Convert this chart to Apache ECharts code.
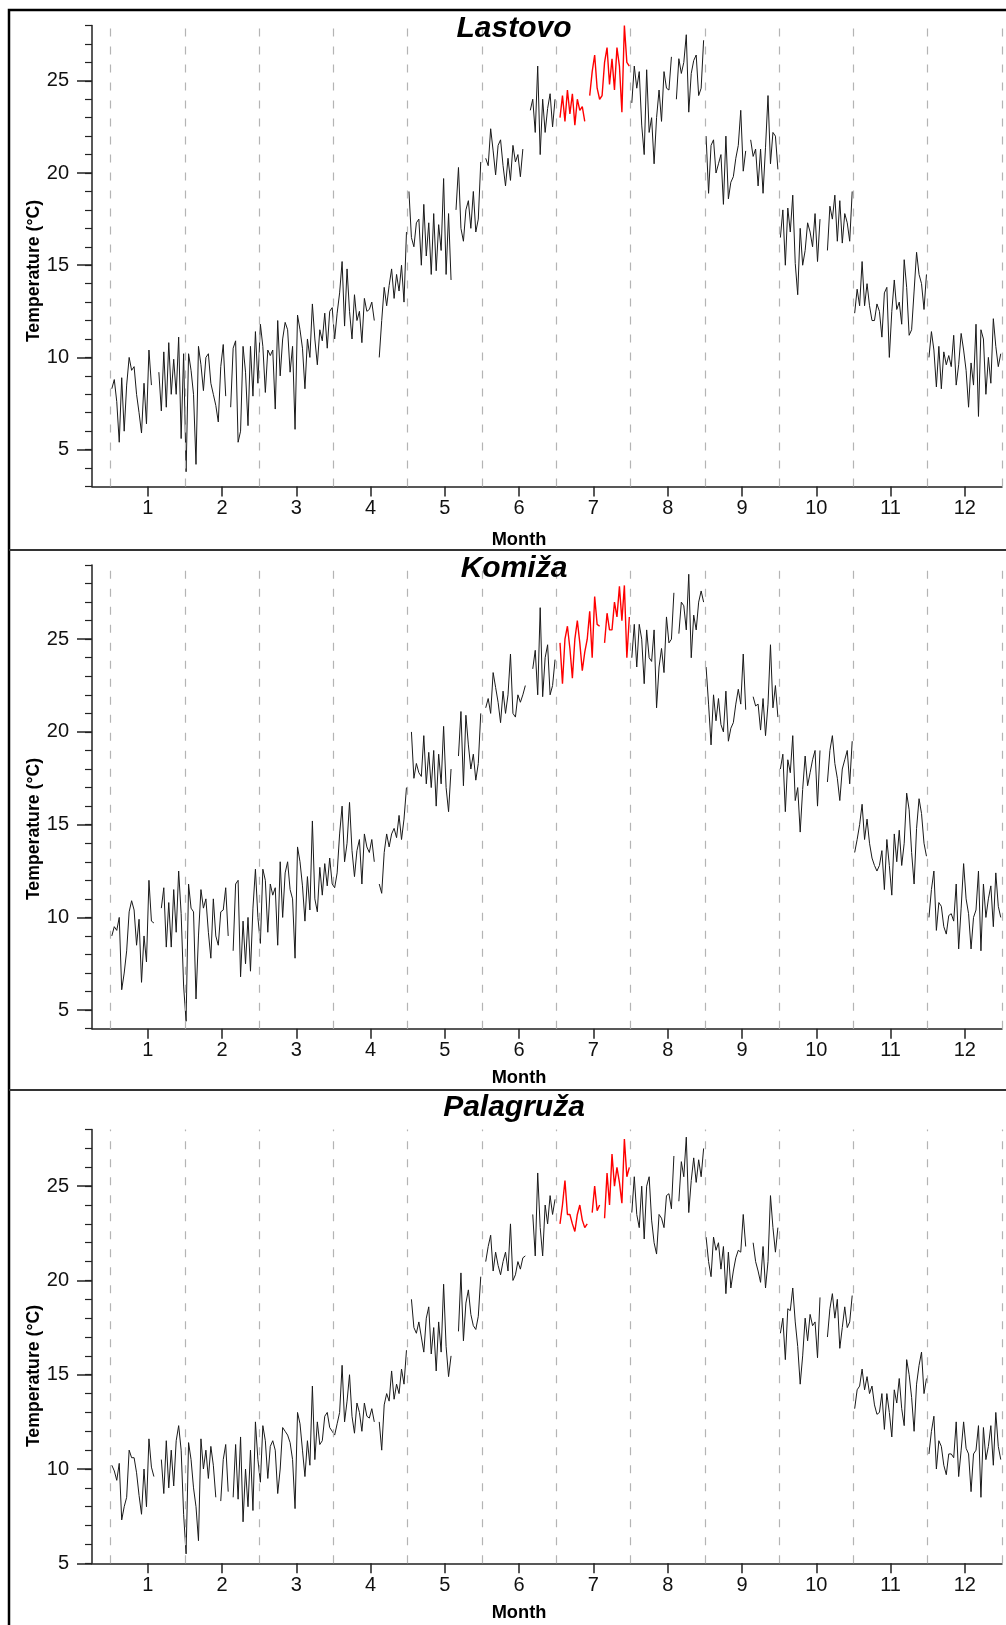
<!DOCTYPE html>
<html><head><meta charset="utf-8">
<script src="https://cdn.jsdelivr.net/npm/echarts@6/dist/echarts.min.js"></script>
<style>html,body{margin:0;padding:0;background:#fff}#c{width:1006px;height:1625px}</style>
</head><body><div id="c"></div>
<script>
const stations = ['Lastovo', 'Komiža', 'Palagruža'];
const months = [1, 2, 3, 4, 5, 6, 7, 8, 9, 10, 11, 12];
const tempTicks = [5, 10, 15, 20, 25];
const yRanges = [[3, 28], [4, 29], [5, 28]];
const highlightMonth = 7;
const joinedMonths = [1, 2, 3];

// daily values (30 slots per month), null = missing
const lastovoTemps = [
  [8.3, 8.8, 7.6, 5.4, 8.9, 6.0, 8.5, 10.0, 9.3, 9.5, 8.0, 7.0, 5.9, 8.6, 6.4, 10.4, 8.5, null, null, 9.2, 7.1, 10.3, 7.3, 10.8, 8.0, 9.9, 8.0, 11.1, 5.6, 10.2],
  [3.8, 10.2, 9.3, 8.0, 4.2, 10.6, 9.6, 8.2, 10.0, 10.2, 8.6, 8.0, 7.4, 6.5, 9.5, 10.7, 7.9, null, 7.3, 10.5, 10.9, 5.4, 6.0, 10.6, 9.2, 6.3, 10.6, 7.9, 11.4, 8.6],
  [11.8, 10.6, 8.1, 10.4, 10.1, 10.4, 7.2, 12.0, 9.0, 11.0, 11.9, 11.5, 9.2, 10.6, 6.1, 12.3, 11.5, 10.5, 8.3, 11.0, 10.0, 12.9, 11.0, 9.6, 11.5, 10.9, 12.4, 10.5, 12.5, 12.7],
  [11.0, 12.4, 13.5, 15.2, 11.7, 14.8, 12.5, 11.0, 13.4, 12.0, 12.5, 10.8, 13.2, 12.5, 12.6, 13.0, 12.0, null, 10.0, 12.0, 13.8, 12.8, 13.9, 14.8, 13.2, 14.5, 13.6, 15.0, 13.0, 16.8],
  [19.0, 16.5, 16.0, 17.3, 17.5, 15.0, 18.3, 15.5, 17.3, 14.5, 17.8, 14.7, 17.2, 15.8, 19.7, 14.5, 17.8, 14.2, null, 18.0, 20.3, 17.0, 16.3, 18.0, 18.5, 17.0, 19.0, 16.8, 17.5, 20.6],
  [null, 20.8, 20.4, 22.4, 21.2, 19.9, 21.5, 21.8, 20.4, 19.3, 20.8, 19.6, 21.5, 20.6, 21.0, 19.8, 21.3, null, null, 23.4, 24.0, 22.2, 25.8, 21.0, 24.0, 22.2, 23.5, 24.3, 22.5, 24.0],
  [null, 23.0, 24.2, 22.8, 24.5, 23.2, 24.3, 22.6, 24.0, 23.4, 23.6, 22.8, null, 24.2, 25.5, 26.4, 24.6, 24.0, 24.2, 26.0, 26.8, 24.8, 26.2, 24.5, 26.8, 25.8, 23.3, 28.0, 26.0, 25.8],
  [23.8, 25.8, 24.6, 25.5, 22.6, 21.0, 25.6, 22.2, 23.0, 20.5, 23.0, 24.5, 22.8, 25.5, 24.6, 24.5, 26.3, null, 24.0, 26.2, 25.4, 26.0, 27.5, 23.3, 25.4, 26.1, 26.4, 24.2, 24.6, 27.2],
  [22.0, 18.9, 21.5, 21.8, 20.0, 20.5, 21.0, 18.3, 22.0, 18.6, 19.5, 19.8, 20.8, 21.5, 23.4, 20.1, 21.2, null, 21.8, 20.9, 21.3, 19.3, 21.3, 18.9, 21.4, 24.2, 20.5, 22.2, 22.0, 20.2],
  [16.5, 18.0, 15.0, 18.1, 16.8, 18.8, 15.1, 13.4, 17.0, 15.0, 15.8, 17.3, 16.8, 16.0, 17.8, 15.2, 17.5, null, null, 15.8, 18.2, 17.5, 18.8, 16.3, 18.5, 16.2, 17.8, 17.3, 16.3, 19.0],
  [12.4, 13.7, 12.8, 15.2, 12.8, 14.0, 12.8, 12.0, 12.0, 12.9, 12.5, 11.1, 13.5, 13.8, 10.0, 12.5, 14.2, 12.6, 13.0, 11.8, 15.3, 13.8, 11.2, 11.5, 13.6, 15.7, 14.5, 14.0, 12.6, 14.5],
  [10.0, 11.4, 10.4, 8.4, 10.6, 8.3, 10.3, 9.6, 10.1, 9.5, 11.2, 8.5, 9.6, 11.3, 10.4, 9.3, 7.3, 9.7, 8.5, 11.8, 6.8, 11.5, 11.0, 8.0, 10.0, 8.6, 12.1, 10.6, 9.5, 10.2]
];
const komizaTemps = [
  [9.0, 9.5, 9.3, 10.0, 6.1, 7.0, 8.2, 10.3, 10.9, 10.4, 8.5, 9.9, 6.5, 9.0, 7.6, 12.0, 9.8, 9.7, null, null, 10.5, 11.6, 8.4, 10.8, 8.4, 11.5, 9.2, 12.5, 10.2, 6.3],
  [4.4, 11.8, 10.5, 10.3, 5.6, 9.0, 11.5, 10.5, 11.0, 9.2, 7.8, 11.0, 9.0, 8.5, 10.3, 10.4, 11.6, 9.0, null, 8.2, 11.8, 12.0, 6.8, 9.8, 7.5, 10.0, 7.1, 10.5, 12.6, 10.0],
  [8.6, 12.6, 12.0, 9.2, 11.8, 11.2, 11.6, 8.5, 13.0, 10.0, 12.4, 13.0, 11.5, 11.0, 7.8, 13.8, 13.0, 11.7, 9.8, 12.2, 10.4, 15.2, 11.0, 10.3, 12.7, 11.2, 12.9, 11.7, 13.2, 11.8],
  [11.6, 12.4, 14.5, 16.0, 13.0, 14.0, 16.2, 13.6, 12.2, 13.6, 14.2, 11.8, 14.5, 13.8, 13.5, 14.2, 13.0, null, 11.8, 11.3, 13.5, 14.5, 13.8, 14.5, 14.8, 14.3, 15.5, 14.2, 15.3, 17.0],
  [null, 20.0, 17.5, 18.3, 17.8, 17.6, 19.8, 17.2, 18.9, 17.0, 19.0, 16.0, 18.8, 17.2, 20.3, 17.0, 15.7, 18.0, null, null, 18.7, 21.1, 17.1, 20.9, 19.3, 18.0, 18.8, 17.4, 18.3, 21.0],
  [null, 21.3, 21.8, 21.0, 23.2, 22.4, 21.6, 20.5, 22.2, 21.0, 22.0, 24.2, 21.0, 20.8, 22.0, 21.6, 22.0, 22.5, null, null, 23.4, 24.4, 22.0, 26.7, 21.9, 24.0, 24.7, 22.0, 22.5, 23.9],
  [null, 24.8, 22.6, 25.0, 25.7, 24.5, 22.9, 25.0, 26.0, 24.8, 23.3, 24.3, 25.0, 26.5, 24.0, 27.3, 25.8, 25.7, null, 24.8, 26.4, 25.5, 25.5, 27.0, 26.2, 27.85, 26.0, 27.9, 24.0, 26.2],
  [24.0, 25.8, 23.5, 25.8, 25.0, 22.6, 25.5, 24.0, 23.8, 25.5, 21.3, 23.5, 24.5, 23.2, 26.2, 24.8, 25.0, 27.5, null, 25.3, 27.0, 26.8, 25.5, 28.5, 24.0, 26.3, 25.5, 27.0, 27.6, 27.0],
  [23.5, 21.5, 19.3, 22.0, 20.6, 21.8, 20.4, 20.0, 22.2, 19.5, 20.2, 20.5, 21.5, 22.3, 21.5, 24.2, 21.2, null, null, 21.9, 21.4, 21.5, 20.1, 21.8, 19.8, 21.5, 24.7, 21.3, 22.5, 20.8],
  [18.0, 18.8, 15.7, 18.5, 17.8, 19.8, 16.3, 17.0, 14.6, 16.9, 18.7, 17.1, 17.8, 18.5, 19.0, 16.0, 19.0, null, null, 17.3, 19.0, 19.8, 18.3, 17.5, 16.3, 18.0, 18.5, 19.0, 17.2, 19.5],
  [13.5, 14.2, 15.0, 16.1, 14.2, 15.3, 14.0, 13.2, 12.8, 12.5, 12.8, 13.6, 11.5, 14.2, 12.8, 11.2, 14.5, 13.0, 14.7, 12.8, 14.0, 16.7, 15.8, 13.5, 11.8, 14.8, 16.4, 15.6, 14.0, 13.3],
  [10.0, 11.5, 12.5, 9.3, 10.8, 10.6, 9.5, 9.1, 10.1, 10.2, 9.8, 11.8, 8.3, 10.5, 12.9, 11.0, 10.2, 8.3, 10.0, 10.4, 12.5, 8.2, 11.8, 10.0, 11.0, 11.7, 9.5, 12.4, 10.6, 10.0]
];
const palagruzaTemps = [
  [10.2, 9.9, 9.4, 10.3, 7.3, 8.0, 8.5, 11.0, 10.6, 10.6, 9.8, 8.6, 7.6, 10.0, 8.0, 11.6, 10.1, 9.6, null, null, 10.5, 8.7, 11.5, 9.0, 11.0, 9.1, 11.5, 12.3, 11.0, 7.6],
  [5.5, 11.4, 10.5, 9.0, 8.0, 6.2, 11.6, 10.0, 11.0, 9.5, 11.2, 10.2, 8.5, null, 8.3, 10.5, 11.3, 8.8, null, 8.5, 11.3, 8.4, 11.7, 7.2, 10.0, 8.0, 11.0, 7.8, 12.5, 10.5],
  [9.3, 12.3, 11.5, 9.5, 11.2, 11.5, 11.0, 8.7, 10.0, 12.2, 12.0, 11.8, 11.4, 10.5, 7.9, 13.0, 12.4, 11.0, 9.6, 11.5, 10.2, 14.4, 10.5, 12.5, 11.3, 11.5, 12.8, 13.0, 12.2, 12.0],
  [11.8, 12.4, 13.0, 15.5, 12.5, 13.6, 15.0, 12.8, 11.9, 13.5, 13.0, 12.0, 13.5, 12.8, 12.7, 13.2, 12.5, null, 12.5, 11.0, 13.4, 14.0, 13.6, 15.2, 13.7, 14.5, 14.0, 15.3, 14.5, 16.3],
  [null, 19.0, 17.5, 17.2, 17.8, 17.0, 16.2, 18.0, 18.6, 16.1, 17.5, 15.2, 17.8, 16.2, 19.8, 16.5, 14.9, 16.0, null, null, 17.3, 20.4, 16.8, 18.8, 19.5, 18.2, 17.6, 17.4, 18.1, 20.2],
  [null, 21.0, 21.8, 22.4, 20.5, 21.5, 20.8, 20.3, 21.0, 21.5, 20.5, 23.0, 20.0, 20.3, 21.0, 20.6, 21.2, 21.3, null, null, 23.5, 21.3, 25.7, 22.8, 21.3, 24.0, 23.0, 24.5, 23.5, 24.3],
  [null, 23.0, 24.0, 25.3, 23.5, 23.5, 23.0, 22.6, 23.5, 24.0, 23.2, 22.8, 23.0, null, 23.6, 25.0, 23.7, 24.0, null, 23.3, 25.7, 24.0, 26.7, 25.0, 26.0, 25.2, 24.1, 27.5, 25.5, 26.0],
  [23.6, 25.5, 23.5, 22.8, 25.0, 22.2, 25.0, 25.5, 23.2, 22.0, 21.4, 23.5, 23.3, 22.8, 24.5, 24.6, 23.8, 26.6, null, 24.2, 26.3, 25.5, 27.6, 23.6, 25.3, 26.5, 25.2, 26.4, 25.5, 27.0],
  [22.3, 21.0, 20.2, 22.3, 21.6, 22.0, 20.6, 21.8, 19.3, 21.5, 19.6, 20.5, 21.2, 21.6, 21.5, 23.5, 21.8, null, null, 22.0, 21.0, 20.5, 19.9, 21.8, 19.6, 21.0, 24.5, 22.8, 21.5, 22.8],
  [17.2, 18.0, 15.8, 18.5, 18.4, 19.6, 17.8, 16.5, 14.5, 16.0, 18.0, 16.8, 18.2, 17.6, 17.8, 15.9, 19.1, null, null, 17.0, 18.5, 19.3, 18.0, 19.0, 16.4, 17.5, 18.6, 17.5, 17.8, 19.2],
  [13.2, 14.2, 14.4, 15.3, 14.2, 14.9, 14.0, 14.4, 13.4, 12.9, 13.0, 14.0, 12.1, 14.0, 13.0, 11.7, 14.2, 13.5, 14.8, 13.2, 12.3, 15.8, 15.0, 13.8, 12.0, 14.5, 15.5, 16.2, 14.0, 14.8],
  [10.8, 12.0, 12.8, 10.0, 11.5, 11.2, 10.2, 9.7, 10.8, 10.8, 10.6, 12.5, 9.6, 11.0, 12.5, 11.1, 10.8, 8.8, 10.8, 11.0, 12.3, 8.5, 12.2, 10.5, 11.2, 12.3, 10.2, 13.0, 11.2, 10.5]
];
const allTemps = [lastovoTemps, komizaTemps, palagruzaTemps];

const gridLayout = [
  { top: 25.5, height: 461 },
  { top: 565, height: 463.7 },
  { top: 1129.6, height: 433.7 }
];
const titleY = [29, 569, 1108];
const monthLabelY = [540, 1078, 1613];
const yNameY = [271, 829, 1376];

const AXIS_COLOR = '#222';
const FONT = '"Liberation Sans", Arial, sans-serif';

function buildData(temps) {
  const black = [], red = [];
  temps.forEach((vals, mi) => {
    const m = months[mi];
    const target = m === highlightMonth ? red : black;
    vals.forEach((v, i) => {
      const x = m - 0.5 + (i + 0.5) / vals.length;
      target.push([x, v === null ? '-' : v]);
    });
    if (m !== highlightMonth && joinedMonths.indexOf(m) < 0) black.push([m + 0.5, '-']);
  });
  return { black, red };
}

const grid = [], xAxis = [], yAxis = [], series = [];
allTemps.forEach((temps, g) => {
  grid.push({ left: 92, width: 910, top: gridLayout[g].top, height: gridLayout[g].height, containLabel: false });
  xAxis.push({
    type: 'value', gridIndex: g, min: 0.25, max: 12.5,
    axisLine: { show: true, onZero: false, lineStyle: { color: AXIS_COLOR, width: 1.5 } },
    axisTick: { show: true, customValues: months, length: 10, lineStyle: { color: AXIS_COLOR, width: 1.5 } },
    axisLabel: { show: true, customValues: months, fontSize: 20, color: '#111', margin: 12, fontFamily: FONT },
    splitLine: { show: false }
  });
  const [ymin, ymax] = yRanges[g];
  yAxis.push({
    type: 'value', gridIndex: g, position: 'left', min: ymin, max: ymax,
    axisLine: { show: true, onZero: false, lineStyle: { color: AXIS_COLOR, width: 1.5 } },
    axisTick: { show: true, customValues: tempTicks, length: 15, lineStyle: { color: AXIS_COLOR, width: 1.5 } },
    axisLabel: { show: true, customValues: tempTicks, fontSize: 20, color: '#111', margin: 23, fontFamily: FONT },
    splitLine: { show: false }
  });
  yAxis.push({
    type: 'value', gridIndex: g, position: 'left', offset: 0, min: ymin, max: ymax, interval: 1,
    axisLine: { show: false },
    axisTick: { show: true, length: 7, lineStyle: { color: AXIS_COLOR, width: 1.2 } },
    axisLabel: { show: false },
    splitLine: { show: false }
  });
  const d = buildData(temps);
  series.push({
    type: 'line', xAxisIndex: g, yAxisIndex: 2 * g, data: d.black,
    symbol: 'none', showSymbol: false, connectNulls: false, silent: true,
    lineStyle: { color: '#1a1a1a', width: 1 }, z: 3,
    markLine: {
      silent: true, symbol: 'none', label: { show: false },
      lineStyle: { color: '#b4b4b4', type: [8, 10], width: 1.2 },
      emphasis: { disabled: true },
      data: months.map(m => ({ xAxis: m - 0.5 })).concat([{ xAxis: months[months.length - 1] + 0.5 }])
    }
  });
  series.push({
    type: 'line', xAxisIndex: g, yAxisIndex: 2 * g, data: d.red,
    symbol: 'none', showSymbol: false, connectNulls: false, silent: true,
    lineStyle: { color: '#ff0000', width: 1.4 }, z: 4
  });
});

const graphic = [
  { type: 'rect', shape: { x: 9, y: 10, width: 1010, height: 1640 }, style: { fill: 'none', stroke: '#000', lineWidth: 2.5 }, z: 10 },
  { type: 'line', shape: { x1: 9, y1: 550, x2: 1010, y2: 550 }, style: { stroke: '#333', lineWidth: 2 }, z: 10 },
  { type: 'line', shape: { x1: 9, y1: 1090, x2: 1010, y2: 1090 }, style: { stroke: '#333', lineWidth: 2 }, z: 10 }
];
stations.forEach((name, g) => {
  graphic.push({ type: 'text', x: 514, y: titleY[g], z: 11,
    style: { text: name, font: 'italic bold 30px ' + FONT, fill: '#000', align: 'center', verticalAlign: 'middle' } });
  graphic.push({ type: 'text', x: 519, y: monthLabelY[g], z: 11, scaleX: 0.96,
    style: { text: 'Month', font: 'bold 19px ' + FONT, fill: '#000', align: 'center', verticalAlign: 'middle' } });
  graphic.push({ type: 'text', x: 34, y: yNameY[g], rotation: Math.PI / 2, scaleX: 0.93, z: 11,
    style: { text: 'Temperature (°C)', font: 'bold 19px ' + FONT, fill: '#000', align: 'center', verticalAlign: 'middle' } });
});

const chart = echarts.init(document.getElementById('c'), null, { renderer: 'canvas' });
chart.setOption({ animation: false, backgroundColor: '#fff', grid, xAxis, yAxis, series, graphic });
</script></body></html>
